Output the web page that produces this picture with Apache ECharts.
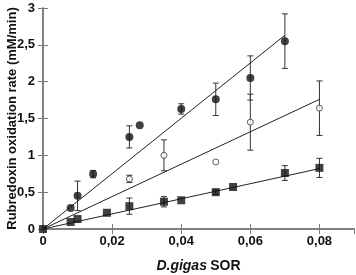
<!DOCTYPE html>
<html><head><meta charset="utf-8">
<script src="https://cdn.jsdelivr.net/npm/echarts@6/dist/echarts.min.js"></script>
<style>html,body{margin:0;padding:0;background:#fff}#c{width:356px;height:275px}</style>
</head><body><div id="c"></div>
<script>
// Filled circles
const s1x = [0.008, 0.010, 0.0145, 0.025, 0.028, 0.040, 0.050, 0.060, 0.070];
const s1y = [0.285, 0.45, 0.745, 1.25, 1.41, 1.63, 1.76, 2.05, 2.55];
const s1e = [0, 0.20, 0.05, 0.15, 0, 0.07, 0.22, 0.30, 0.37];
// Hollow circles
const s2x = [0.025, 0.035, 0.050, 0.060, 0.080];
const s2y = [0.68, 1.00, 0.91, 1.45, 1.64];
const s2e = [0.05, 0.21, 0, 0.38, 0.37];
// Squares
const s3x = [0, 0.008, 0.010, 0.0185, 0.025, 0.035, 0.040, 0.050, 0.055, 0.070, 0.080];
const s3y = [0, 0.095, 0.135, 0.22, 0.31, 0.37, 0.39, 0.50, 0.57, 0.76, 0.83];
const s3e = [0, 0, 0, 0, 0.11, 0.07, 0, 0.03, 0, 0.10, 0.13];
// Fit lines (end points)
const fit1 = [[0, 0], [0.07, 2.63]];
const fit2 = [[0, 0], [0.08, 1.76]];
const fit3 = [[0, 0], [0.08, 0.82]];
const xTicks = [0, 0.02, 0.04, 0.06, 0.08];

const pts = (xs, ys) => xs.map((x, i) => [x, ys[i]]);
const errs = (xs, ys, es) => xs.map((x, i) => [x, ys[i] - es[i], ys[i] + es[i]]).filter((d, i) => es[i] > 0);

const axisCol = '#7a7a7a';
const errSeries = (data) => ({
  type: 'custom', z: 1, silent: true,
  renderItem: (params, api) => {
    const x = api.value(0);
    const lo = api.coord([x, api.value(1)]);
    const hi = api.coord([x, api.value(2)]);
    const w = 3;
    const st = { stroke: '#333', lineWidth: 1 };
    return { type: 'group', children: [
      { type: 'line', shape: { x1: lo[0], y1: lo[1], x2: hi[0], y2: hi[1] }, style: st },
      { type: 'line', shape: { x1: lo[0] - w, y1: lo[1], x2: lo[0] + w, y2: lo[1] }, style: st },
      { type: 'line', shape: { x1: hi[0] - w, y1: hi[1], x2: hi[0] + w, y2: hi[1] }, style: st }
    ]};
  },
  data: data
});
const fitSeries = (d) => ({ type: 'line', data: d, symbol: 'none', z: 2, silent: true,
  lineStyle: { color: '#222', width: 1 } });

const fmtX = v => xTicks.some(t => Math.abs(t - v) < 1e-9) ? (v === 0 ? '0' : v.toFixed(2).replace('.', ',')) : '';
const fmtY = v => String(v).replace('.', ',');
const lab = { fontFamily: 'Liberation Sans', fontWeight: 'bold', fontSize: 13, color: '#111' };

const chart = echarts.init(document.getElementById('c'));
chart.setOption({
  animation: false,
  grid: { left: 43, right: 2, top: 8, bottom: 46, containLabel: false, outerBoundsMode: 'none' },
  xAxis: [{
    type: 'value', min: 0, max: 0.09, interval: 0.02,
    axisLine: { show: true, lineStyle: { color: axisCol, width: 1.5 } },
    axisTick: { show: true, inside: true, length: 5, lineStyle: { color: axisCol } },
    splitLine: { show: false },
    axisLabel: Object.assign({ formatter: fmtX, margin: 6, showMaxLabel: false }, lab),
    name: '{i|D.gigas} {n|SOR}', nameLocation: 'middle', nameGap: 30, nameMoveOverlap: false,
    nameTextStyle: { rich: {
      i: { fontFamily: 'Liberation Sans', fontWeight: 'bold', fontStyle: 'italic', fontSize: 14, color: '#111' },
      n: { fontFamily: 'Liberation Sans', fontWeight: 'bold', fontSize: 14, color: '#111' } } }
  }, {
    type: 'value', position: 'top', min: 0, max: 0.09, interval: 0.02,
    axisLine: { show: true, lineStyle: { color: axisCol, width: 1.5 } },
    axisTick: { show: true, inside: true, length: 5, lineStyle: { color: axisCol } },
    axisLabel: { show: false }, splitLine: { show: false }
  }],
  yAxis: [{
    type: 'value', min: 0, max: 3, interval: 0.5,
    axisLine: { show: true, lineStyle: { color: axisCol, width: 1.5 } },
    axisTick: { show: true, inside: true, length: 5, lineStyle: { color: axisCol } },
    splitLine: { show: false },
    axisLabel: Object.assign({ formatter: fmtY, margin: 8 }, lab),
    name: 'Rubredoxin oxidation rate (mM/min)', nameLocation: 'middle', nameGap: 24, nameMoveOverlap: false,
    nameTextStyle: { fontFamily: 'Liberation Sans', fontWeight: 'bold', fontSize: 13, color: '#111' }
  }, {
    type: 'value', position: 'right', min: 0, max: 3, interval: 0.5,
    axisLine: { show: true, lineStyle: { color: axisCol, width: 1.5 } },
    axisTick: { show: true, inside: true, length: 5, lineStyle: { color: axisCol } },
    axisLabel: { show: false }, splitLine: { show: false }
  }],
  series: [
    fitSeries(fit1), fitSeries(fit2), fitSeries(fit3),
    errSeries(errs(s1x, s1y, s1e)), errSeries(errs(s2x, s2y, s2e)), errSeries(errs(s3x, s3y, s3e)),
    { type: 'scatter', z: 3, data: pts(s1x, s1y), symbol: 'circle', symbolSize: 8,
      itemStyle: { color: '#111' } },
    { type: 'scatter', z: 3, data: pts(s2x, s2y), symbol: 'circle', symbolSize: 6,
      itemStyle: { color: '#fff', borderColor: '#333', borderWidth: 1 } },
    { type: 'scatter', z: 3, data: pts(s3x, s3y), symbol: 'rect', symbolSize: 8,
      itemStyle: { color: '#111' } }
  ]
});
</script></body></html>
